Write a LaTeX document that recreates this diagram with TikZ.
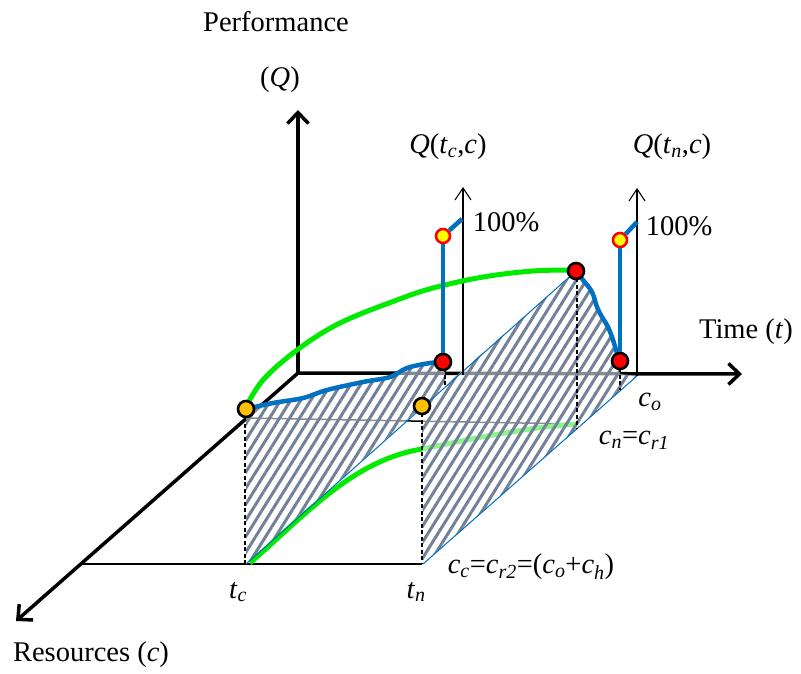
\documentclass[tikz,border=0pt]{standalone}
\usepackage{fontspec}
\setmainfont{Liberation Serif}
\usetikzlibrary{arrows.meta,patterns.meta}
\definecolor{qgreen}{RGB}{0,235,0}
\definecolor{qblue}{RGB}{0,112,192}
\definecolor{qorange}{RGB}{255,192,0}
\definecolor{qyellow}{RGB}{255,255,0}
\definecolor{hatchc}{RGB}{114,128,152}
\begin{document}
\begin{tikzpicture}[x=1pt,y=-1pt,
  axisline/.style={line width=3.5pt,-{Straight Barb[length=11pt,width=21pt,line width=3.5pt]}},
  thinaxis/.style={line width=1.1pt,-{Straight Barb[length=12pt,width=16pt,line width=1.1pt]}},
  curveblue/.style={draw=qblue,line width=4.5pt,line cap=round},
  curvegreen/.style={draw=qgreen,line width=5pt,line cap=round},
  edgeblue/.style={draw=qblue,line width=1pt},
  dashv/.style={draw=black,line width=1.2pt,dash pattern=on 4pt off 2.5pt},
  hatchfill/.style={pattern={Lines[angle=58,distance=8.5pt,line width=3pt]},pattern color=hatchc},
  fadefill/.style={fill=white,fill opacity=0.55},
  ptdot/.style={circle,draw=black,line width=2.6pt,minimum size=16pt,inner sep=0pt},
  ptring/.style={circle,draw=red,fill=qyellow,line width=2.6pt,minimum size=14pt,inner sep=0pt},
  lbl/.style={font=\fontsize{28.5}{32}\selectfont,inner sep=0pt}]
\useasboundingbox (0,0) rectangle (801,673);

% coordinates
\coordinate (O) at (298,373);
\coordinate (Qtip) at (298,110);
\coordinate (Ttip) at (742,374);
\coordinate (Ctip) at (16,621);
\coordinate (BL) at (82,564);
\coordinate (BR) at (422,564);
\coordinate (Ebl) at (246,564);
\coordinate (Etop) at (576,271);
\coordinate (Ebr) at (423,564);
\coordinate (Etr) at (637,376);
\coordinate (G0) at (250,563);
\coordinate (G1) at (422,449);
\coordinate (G2) at (577,424);

% axes
\draw[axisline] (O) -- (Qtip);
\draw[axisline] (O) -- (Ttip);
\draw[axisline] (O) -- (Ctip);
\draw[line width=2pt] (BL) -- (BR);
\draw[line width=1.5pt] (246,418) -- (577,424);

% lower green curve, far part (under the hatching)
\draw[curvegreen,line cap=butt] (G1) .. controls (475,438) and (530,427) .. (G2);

% hatched region 1
\path[fadefill] (Ebl) -- (246,409) -- plot[smooth,tension=0.6] coordinates {(246,409) (273,403) (303,398) (327,390) (363,382) (390,377) (407,368) (430,363) (443,362)} -- (445,374) -- (445,386) -- cycle;
\path[hatchfill] (Ebl) -- (246,409) -- plot[smooth,tension=0.6] coordinates {(246,409) (273,403) (303,398) (327,390) (363,382) (390,377) (407,368) (430,363) (443,362)} -- (445,374) -- (445,386) -- cycle;
% hatched region 2
\path[fadefill] (Etop) -- plot[smooth,tension=0.6] coordinates {(576,271) (583,280) (592,292) (597,307) (602,317) (608,327) (613,340) (617,353) (620,361)} -- (620,374) -- (Etr) -- (Ebr) -- (422,406) -- cycle;
\path[hatchfill] (Etop) -- plot[smooth,tension=0.6] coordinates {(576,271) (583,280) (592,292) (597,307) (602,317) (608,327) (613,340) (617,353) (620,361)} -- (620,374) -- (Etr) -- (Ebr) -- (422,406) -- cycle;

% lower green curve, near part
\draw[curvegreen,line cap=butt] (G0) .. controls (310,510) and (355,460) .. (G1);

% thin blue edges
\draw[edgeblue] (Ebl) -- (Etop);
\draw[edgeblue] (Ebr) -- (Etr);

% dashed verticals
\draw[dashv] (245,417) -- (245,564);
\draw[dashv] (422,413) -- (422,564);
\draw[dashv] (577,278) -- (577,428);
\draw[dashv] (445,368) -- (445,385);
\draw[dashv] (620,368) -- (620,390);

% thin Q axes
\draw[thinaxis] (463,375) -- (463,187);
\draw[thinaxis] (637,376) -- (637,188);

% top green curve
\draw[curvegreen] plot[smooth,tension=0.6] coordinates {(246,407) (263,380) (297,350) (340,323) (397,300) (433,288) (483,277) (533,271) (576,270)};

% blue curves
\draw[curveblue] plot[smooth,tension=0.6] coordinates {(246,409) (273,403) (303,398) (327,390) (363,382) (390,377) (407,368) (430,363) (443,362)};
\draw[curveblue] plot[smooth,tension=0.6] coordinates {(576,271) (583,280) (592,292) (597,307) (602,317) (608,327) (613,340) (617,353) (620,361)};

% points
\node[ptdot,fill=qorange] (A) at (246,409) {};
\node[ptdot,fill=qorange] (B) at (422,406) {};
\node[ptdot,fill=red] (R1) at (443,362) {};
\node[ptdot,fill=red] (P) at (576,271) {};
\node[ptdot,fill=red] (R2) at (620,361) {};
\coordinate (Y1e) at (462,219);
\coordinate (Y2e) at (637,222);
\node[ptring] (Y1) at (443,236) {};
\node[ptring] (Y2) at (620,240) {};
\draw[curveblue,line cap=butt] (R1) -- (Y1);
\draw[curveblue,line cap=butt] (R2) -- (Y2);
\draw[curveblue,line cap=butt] (Y1) -- (Y1e);
\draw[curveblue,line cap=butt] (Y2) -- (Y2e);

% labels
\node[lbl] (lperf) at (276,22) {Performance};
\node[lbl] (lq) at (280,80) {(\textit{Q})};
\node[lbl] (lqtc) at (448,147) {\textit{Q}(\textit{t}\textsubscript{\textit{c}},\textit{c})};
\node[lbl] (lqtn) at (672,147) {\textit{Q}(\textit{t}\textsubscript{\textit{n}},\textit{c})};
\node[lbl] (l100a) at (506,222) {100\%};
\node[lbl] (l100b) at (679,226) {100\%};
\node[lbl] (ltime) at (746,332) {Time (\textit{t})};
\node[lbl] (lco) at (650,402) {\textit{c}\textsubscript{\textit{o}}};
\node[lbl] (lcn) at (634,440) {\textit{c}\textsubscript{\textit{n}}=\textit{c}\textsubscript{\textit{r1}}};
\node[lbl] (lcc) at (531,567) {\textit{c}\textsubscript{\textit{c}}=\textit{c}\textsubscript{\textit{r2}}=(\textit{c}\textsubscript{\textit{o}}+\textit{c}\textsubscript{\textit{h}})};
\node[lbl] (ltc) at (238,592) {\textit{t}\textsubscript{\textit{c}}};
\node[lbl] (ltn) at (416,592) {\textit{t}\textsubscript{\textit{n}}};
\node[lbl] (lres) at (91,655) {Resources (\textit{c})};
\end{tikzpicture}
\end{document}
